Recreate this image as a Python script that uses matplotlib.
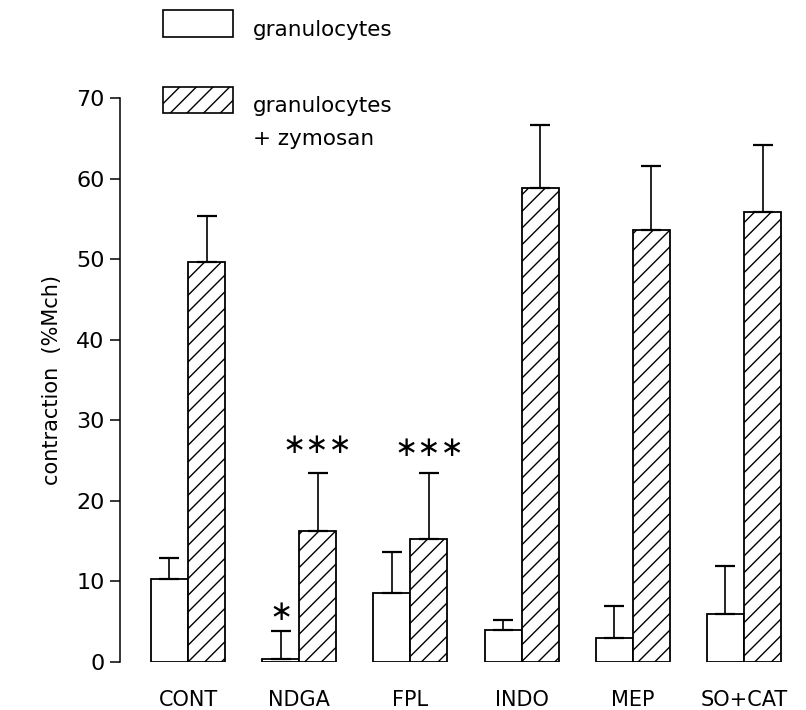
import matplotlib
matplotlib.use("Agg")
import matplotlib.pyplot as plt
from matplotlib.patches import Rectangle
import numpy as np

categories = ["CONT", "NDGA", "FPL", "INDO", "MEP", "SO+CAT"]
gran_mean = [10.3, 0.4, 8.6, 4.0, 3.0, 5.9]
gran_sem = [2.6, 3.5, 5.1, 1.2, 4.0, 6.0]
zym_mean = [49.6, 16.3, 15.3, 58.8, 53.6, 55.9]
zym_sem = [5.7, 7.1, 8.2, 7.8, 8.0, 8.3]
yticks = [0, 10, 20, 30, 40, 50, 60, 70]
legend_labels = ["granulocytes", "granulocytes", "+ zymosan"]
ylabel = "contraction  (%Mch)"
# significance marks: (category index, series 0/1, y value, number of stars)
sig_marks = [(1, 0, 6.2, 1), (1, 1, 26.9, 3), (2, 1, 26.6, 3)]

plt.rcParams["font.family"] = ["DejaVu Sans"]
plt.rcParams["hatch.linewidth"] = 1.0

fig = plt.figure(figsize=(8.06, 7.10), dpi=100)
W, H = 806, 710
ax_left, ax_right, ax_top, ax_bot = 120, 806, 98, 662
group_px, step_px = 188, 111.2
ax = fig.add_axes([ax_left / W, (H - ax_bot) / H, (ax_right - ax_left) / W, (ax_bot - ax_top) / H])

x = np.arange(len(categories))
w = 0.333
lw = 1.3
ax.bar(x - w / 2, gran_mean, width=w, facecolor="white", edgecolor="black", linewidth=lw)
ax.bar(x + w / 2, zym_mean, width=w, facecolor="white", edgecolor="black", linewidth=lw, hatch="//")
ax.errorbar(x - w / 2, gran_mean, yerr=[np.zeros(len(x)), gran_sem], fmt="none",
            ecolor="black", elinewidth=1.2, capsize=7, capthick=1.6)
ax.errorbar(x + w / 2, zym_mean, yerr=[np.zeros(len(x)), zym_sem], fmt="none",
            ecolor="black", elinewidth=1.2, capsize=7, capthick=1.6)

for ci, s, yv, n in sig_marks:
    xc = ci - w / 2 if s == 0 else ci + w / 2
    ax.text(xc, yv, "∗" * n, ha="center", va="center", fontsize=20, color="black")

ax.set_xlim((ax_left - group_px) / step_px, (ax_right - group_px) / step_px)
ax.set_ylim(0, 70)
ax.set_yticks(yticks)
ax.set_yticklabels([str(v) for v in yticks], fontsize=16)
ax.set_xticks(x)
ax.set_xticklabels(categories, fontsize=15)
ax.tick_params(axis="x", length=0, pad=20)
ax.tick_params(axis="y", length=7, width=1.1, pad=4, direction="out")
for sp in ["top", "right", "bottom"]:
    ax.spines[sp].set_visible(False)
ax.spines["left"].set_linewidth(1.1)
ax.set_ylabel(ylabel, fontsize=15, labelpad=10)

# legend drawn manually in figure pixels
def fx(px):
    return px / W

def fy(py):
    return 1 - py / H

fig.add_artist(Rectangle((fx(163), fy(37)), fx(233) - fx(163), fy(10) - fy(37),
                         transform=fig.transFigure, facecolor="white", edgecolor="black", linewidth=1.2))
fig.add_artist(Rectangle((fx(163), fy(113)), fx(233) - fx(163), fy(87) - fy(113),
                         transform=fig.transFigure, facecolor="white", edgecolor="black", linewidth=1.2, hatch="//"))
fig.text(fx(253), fy(36), legend_labels[0], fontsize=15.5, ha="left", va="baseline")
fig.text(fx(253), fy(112), legend_labels[1], fontsize=15.5, ha="left", va="baseline")
fig.text(fx(253), fy(145), legend_labels[2], fontsize=15.5, ha="left", va="baseline")

fig.savefig("out.png", dpi=100)
